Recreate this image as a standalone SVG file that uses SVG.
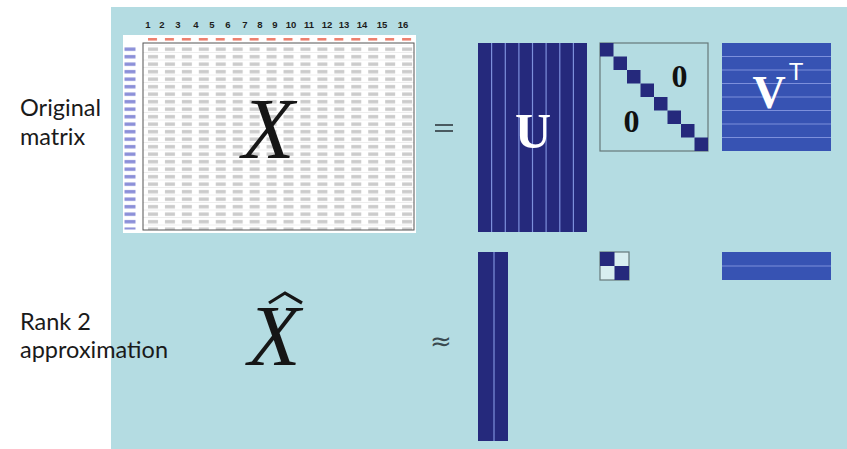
<svg xmlns="http://www.w3.org/2000/svg" width="847" height="449" viewBox="0 0 847 449">
<style>
.lbl{font-family:Lato,"Open Sans","Liberation Sans",sans-serif;font-size:23.5px;fill:#1a1a1a}
.bigx{font-family:"Liberation Serif","Times New Roman",serif;font-style:italic;font-size:86px;fill:#161616}
.hdr{font-family:"Liberation Sans",Arial,sans-serif;font-weight:bold;font-size:9.5px;fill:#1c1c1c;text-anchor:middle}
.wl{font-family:"Liberation Serif","Times New Roman",serif;font-weight:bold;fill:#ffffff;text-anchor:middle}
.zero{font-family:"Liberation Serif","Times New Roman",serif;font-weight:bold;font-size:32px;fill:#111111;text-anchor:middle}
.navy{fill:#25297c}
.vblue{fill:#3753b3}
.ln{stroke:#7d90dc;stroke-width:1.2}
</style>
<defs>
<pattern id="cells" x="143" y="45.5" width="16.94" height="7.5" patternUnits="userSpaceOnUse">
<rect x="5" y="2" width="10" height="3.4" fill="#a8a8a8" opacity="0.6"/>
<rect x="0" y="7" width="16.94" height="0.5" fill="#dcdcdc"/>
</pattern>
<pattern id="rowlbl" x="124" y="45.5" width="18" height="7.5" patternUnits="userSpaceOnUse">
<rect x="0.5" y="2" width="11" height="3.4" fill="#5a5fc8" opacity="0.7"/>
</pattern>
<pattern id="redhdr" x="143" y="37" width="16.94" height="5" patternUnits="userSpaceOnUse">
<rect x="5" y="1" width="9" height="2.6" fill="#e8604a" opacity="0.8"/>
</pattern>
</defs>
<rect x="111" y="7" width="736" height="442" fill="#b4dce2"/>

<g id="label-original">
<text class="lbl" x="20" y="116">Original</text>
<text class="lbl" x="20" y="145">matrix</text>
</g>
<g id="label-rank2">
<text class="lbl" x="20" y="330">Rank 2</text>
<text class="lbl" x="20" y="358">approximation</text>
</g>

<g id="matrix-x">
<rect x="123" y="35" width="293" height="198" fill="#ffffff"/>
<rect x="143" y="37" width="271" height="5" fill="url(#redhdr)"/>
<rect x="124" y="45.5" width="18" height="184" fill="url(#rowlbl)"/>
<rect x="143" y="45.5" width="271" height="184.5" fill="url(#cells)"/>
<rect x="143" y="43" width="271" height="187" fill="none" stroke="#555" stroke-width="1"/>
<g>
<text class="hdr" x="148" y="28">1</text>
<text class="hdr" x="162" y="28">2</text>
<text class="hdr" x="178" y="28">3</text>
<text class="hdr" x="196" y="28">4</text>
<text class="hdr" x="212" y="28">5</text>
<text class="hdr" x="228" y="28">6</text>
<text class="hdr" x="245" y="28">7</text>
<text class="hdr" x="260" y="28">8</text>
<text class="hdr" x="275" y="28">9</text>
<text class="hdr" x="291" y="28">10</text>
<text class="hdr" x="309" y="28">11</text>
<text class="hdr" x="327" y="28">12</text>
<text class="hdr" x="344" y="28">13</text>
<text class="hdr" x="362" y="28">14</text>
<text class="hdr" x="382" y="28">15</text>
<text class="hdr" x="403" y="28">16</text>
</g>
<text class="bigx" x="242" y="158">X</text>
</g>

<g id="equals">
<rect x="435" y="124" width="18" height="2" fill="#4a5a60"/>
<rect x="435" y="130" width="18" height="2" fill="#4a5a60"/>
</g>

<g id="u-full">
<rect class="navy" x="478" y="43" width="109" height="189"/>
<g class="ln">
<line x1="491.6" y1="43" x2="491.6" y2="232"/>
<line x1="505.3" y1="43" x2="505.3" y2="232"/>
<line x1="518.9" y1="43" x2="518.9" y2="232"/>
<line x1="532.5" y1="43" x2="532.5" y2="232"/>
<line x1="546.1" y1="43" x2="546.1" y2="232"/>
<line x1="559.8" y1="43" x2="559.8" y2="232"/>
<line x1="573.4" y1="43" x2="573.4" y2="232"/>
</g>
<text class="wl" x="533" y="148" font-size="50">U</text>
</g>

<g id="sigma-full">
<rect x="600" y="43" width="108" height="108" fill="none" stroke="#66797a" stroke-width="1.2"/>
<g class="navy">
<rect x="600" y="43" width="13.5" height="13.5"/>
<rect x="613.5" y="56.5" width="13.5" height="13.5"/>
<rect x="627" y="70" width="13.5" height="13.5"/>
<rect x="640.5" y="83.5" width="13.5" height="13.5"/>
<rect x="654" y="97" width="13.5" height="13.5"/>
<rect x="667.5" y="110.5" width="13.5" height="13.5"/>
<rect x="681" y="124" width="13.5" height="13.5"/>
<rect x="694.5" y="137.5" width="13.5" height="13.5"/>
</g>
<text class="zero" x="679.5" y="87">0</text>
<text class="zero" x="631.5" y="132">0</text>
</g>

<g id="vt-full">
<rect class="vblue" x="722" y="43" width="109" height="108"/>
<g class="ln">
<line x1="722" y1="56.5" x2="831" y2="56.5"/>
<line x1="722" y1="70" x2="831" y2="70"/>
<line x1="722" y1="83.5" x2="831" y2="83.5"/>
<line x1="722" y1="97" x2="831" y2="97"/>
<line x1="722" y1="110.5" x2="831" y2="110.5"/>
<line x1="722" y1="124" x2="831" y2="124"/>
<line x1="722" y1="137.5" x2="831" y2="137.5"/>
</g>
<text class="wl" x="769" y="108" font-size="46">V</text>
<text x="796" y="80" font-family="Liberation Sans,Arial,sans-serif" font-size="24" fill="#ffffff" text-anchor="middle">T</text>
</g>

<g id="matrix-xhat">
<text class="bigx" x="248" y="365">X</text>
<path d="M269,303 L285,293 L302,303" fill="none" stroke="#161616" stroke-width="3.2" stroke-linejoin="miter"/>
</g>

<g id="approx">
<text x="441" y="350" font-family="DejaVu Sans,sans-serif" font-size="26" fill="#3a4a50" text-anchor="middle">≈</text>
</g>

<g id="u-rank2">
<rect class="navy" x="478" y="252" width="30" height="189"/>
<line class="ln" x1="494" y1="252" x2="494" y2="441"/>
</g>

<g id="sigma-rank2">
<rect x="600" y="252" width="29" height="28" fill="#d8eef0" stroke="#66797a" stroke-width="1.2"/>
<rect class="navy" x="600" y="252" width="14.5" height="14"/>
<rect class="navy" x="614.5" y="266" width="14.5" height="14"/>
</g>

<g id="vt-rank2">
<rect class="vblue" x="722" y="252" width="109" height="28"/>
<line class="ln" x1="722" y1="266" x2="831" y2="266"/>
</g>
</svg>
